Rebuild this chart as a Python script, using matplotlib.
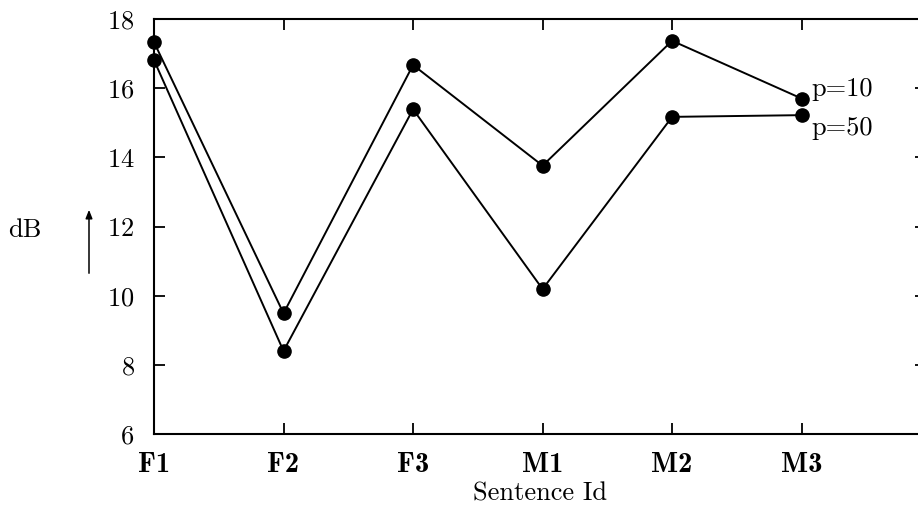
import matplotlib
matplotlib.use("Agg")
import matplotlib.pyplot as plt

plt.rcParams['font.family'] = ['cmr10', 'DejaVu Serif']
plt.rcParams['axes.formatter.use_mathtext'] = True

# Sentence identifiers and level differences (dB) for two percentiles
sentences = ["F1", "F2", "F3", "M1", "M2", "M3"]
p10_db = [17.33, 9.49, 16.67, 13.76, 17.37, 15.70]
p50_db = [16.81, 8.40, 15.39, 10.19, 15.17, 15.22]
series_labels = ["p=10", "p=50"]
y_ticks = [6, 8, 10, 12, 14, 16, 18]

fig = plt.figure(figsize=(9.18, 5.08), dpi=100)
ax = fig.add_axes([154 / 918, 1 - 434 / 508, (926 - 154) / 918, (434 - 19) / 508])

x = list(range(len(sentences)))
for vals in (p10_db, p50_db):
    ax.plot(x, vals, color="black", lw=1.4, marker="o", ms=9.5,
            markerfacecolor="black", markeredgecolor="black", clip_on=False,
            zorder=3)

ax.set_xlim(0, 5.96)
ax.set_ylim(6, 18)
ax.set_yticks(y_ticks)
ax.set_xticks(x)
ax.set_xticklabels(sentences, fontsize=20.5, family=['cmb10', 'DejaVu Serif'])
ax.tick_params(axis="y", labelsize=19, pad=14)
ax.tick_params(axis="x", pad=13)
ax.tick_params(direction="in", length=8, width=1.3, top=True, right=True,
               color="black")
for s in ax.spines.values():
    s.set_linewidth(1.5)

ax.set_xlabel("Sentence Id", fontsize=19, labelpad=3)

# series labels beside the last points
ax.annotate(series_labels[0], (x[-1], p10_db[-1]), xytext=(7, -2),
            textcoords="offset points", fontsize=19, va="bottom", ha="left",
            annotation_clip=False)
ax.annotate(series_labels[1], (x[-1], p50_db[-1]), xytext=(7, -1),
            textcoords="offset points", fontsize=19, va="top", ha="left",
            annotation_clip=False)

# y-axis label with an upward arrow
fig.text(25 / 918, 1 - 230 / 508, "dB", fontsize=19, ha="center", va="center")
fig.add_artist(matplotlib.patches.FancyArrowPatch(
    (89 / 918, 1 - 276 / 508), (89 / 918, 1 - 207 / 508),
    transform=fig.transFigure, arrowstyle="-|>,head_length=5,head_width=2",
    lw=1.1, color="black", mutation_scale=1))

fig.savefig("out.png", dpi=100)
